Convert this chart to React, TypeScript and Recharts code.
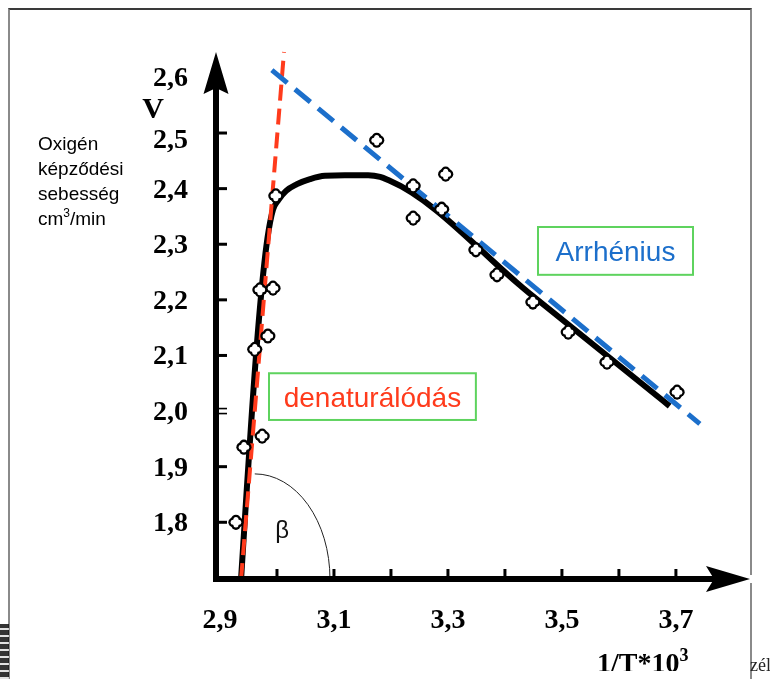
import React from 'react';
import { ComposedChart, XAxis, YAxis, Line, Scatter, ReferenceArea, ReferenceDot } from 'recharts';

// ---- axes ----
const X_DOMAIN: [number, number] = [2.893, 3.83];
const Y_DOMAIN: [number, number] = [1.698, 2.6457];
const X_TICKS = [2.9, 3.0, 3.1, 3.2, 3.3, 3.4, 3.5, 3.6, 3.7];
const X_LABELED = [2.9, 3.1, 3.3, 3.5, 3.7];
const Y_TICKS = [1.8, 1.9, 2.0, 2.1, 2.2, 2.3, 2.4, 2.5, 2.6];
const Y_MARKED = [1.8, 1.9, 2.0, 2.1, 2.2, 2.3, 2.4, 2.5];

// ---- measured points ----
const measuredX = [2.928, 2.942, 2.974, 2.961, 2.984, 2.970, 2.993, 2.998, 3.175, 3.239, 3.239, 3.296, 3.289, 3.349, 3.386, 3.449, 3.511, 3.579, 3.702];
const measuredY = [1.800, 1.935, 1.955, 2.111, 2.135, 2.218, 2.221, 2.387, 2.487, 2.405, 2.347, 2.426, 2.363, 2.290, 2.245, 2.196, 2.142, 2.088, 2.034];

// ---- fitted black curve ----
const curveX = [2.937, 2.988, 2.993, 3.002, 3.016, 3.035, 3.058, 3.084, 3.119, 3.160, 3.181, 3.198, 3.444, 3.689];
const curveY = [1.698, 2.340, 2.362, 2.379, 2.396, 2.408, 2.417, 2.423, 2.424, 2.424, 2.421, 2.414, 2.211, 2.009];

// ---- dashed guide lines ----
const denatX = [2.937, 3.0123];
const denatY = [1.698, 2.6457];
const arrhX = [2.991, 3.742];
const arrhY = [2.613, 1.977];

// ---- annotations ----
const ARRH_BOX = { x1: 3.458, x2: 3.730, y1: 2.245, y2: 2.331, text: 'Arrhénius' };
const DENAT_BOX = { x1: 2.986, x2: 3.349, y1: 1.984, y2: 2.068, text: 'denaturálódás' };
const ARC = { x1: 2.961, x2: 3.093, y1: 1.698, y2: 1.887 };
const BETA = { x: 3.009, y: 1.786, text: 'β' };

const toPts = (xs: number[], ys: number[]) => xs.map((x, i) => ({ x, y: ys[i] }));
const measured = toPts(measuredX, measuredY);
const curve = toPts(curveX, curveY);
const denat = toPts(denatX, denatY);
const arrh = toPts(arrhX, arrhY);
const xArrow = [{ x: X_DOMAIN[1], y: Y_DOMAIN[0] }];
const yArrow = [{ x: X_DOMAIN[0], y: Y_DOMAIN[1] }];
const corner = [{ x: X_DOMAIN[0], y: Y_DOMAIN[0] }];

const SERIF = '"Liberation Serif", "Times New Roman", serif';
const SANS = '"Liberation Sans", Arial, sans-serif';
const RED = '#FF3B1C';
const BLUE = '#1C6FCB';
const GREEN = '#5ED35E';

const has = (arr: number[], v: number) => arr.some((a) => Math.abs(a - v) < 1e-6);
const fmt = (v: number) => v.toFixed(1).replace('.', ',');

const XTick = (props: any) => {
  const { x, y, payload } = props;
  const v = payload.value as number;
  return (
    <g>
      {v > 2.95 && <line x1={x} y1={y} x2={x} y2={y - 10} stroke="#000" strokeWidth={3} />}
      {has(X_LABELED, v) && (
        <text x={x} y={y + 49} textAnchor="middle" fontFamily={SERIF} fontWeight="bold" fontSize={28} fill="#000">
          {fmt(v)}
        </text>
      )}
    </g>
  );
};

const YTick = (props: any) => {
  const { x, y, payload } = props;
  const v = payload.value as number;
  const marked = has(Y_MARKED, v);
  const isTwo = Math.abs(v - 2.0) < 1e-6;
  const nudge = Math.abs(v - 2.5) < 1e-6 ? 6 : 0;
  return (
    <g>
      {marked && !isTwo && <line x1={x} y1={y} x2={x + 11} y2={y} stroke="#000" strokeWidth={3} />}
      {marked && isTwo && (
        <g>
          <line x1={x} y1={y - 2.5} x2={x + 11} y2={y - 2.5} stroke="#000" strokeWidth={1.6} />
          <line x1={x} y1={y + 2.5} x2={x + 11} y2={y + 2.5} stroke="#000" strokeWidth={1.6} />
        </g>
      )}
      <text x={x - 28} y={y + 9 + nudge} textAnchor="end" fontFamily={SERIF} fontWeight="bold" fontSize={28} fill="#000">
        {fmt(v)}
      </text>
    </g>
  );
};

const Clover = (props: any) => {
  const { cx, cy } = props;
  const o = 2.8;
  const lobes = [
    [0, -o],
    [o, 0],
    [0, o],
    [-o, 0],
  ];
  return (
    <g>
      {lobes.map(([dx, dy], i) => (
        <circle key={'b' + i} cx={cx + dx} cy={cy + dy} r={4.8} fill="#000" />
      ))}
      {lobes.map(([dx, dy], i) => (
        <circle key={'w' + i} cx={cx + dx} cy={cy + dy} r={2.5} fill="#fff" />
      ))}
      <circle cx={cx} cy={cy} r={3.4} fill="#fff" />
    </g>
  );
};

const XArrowHead = (props: any) => {
  const { cx, cy } = props;
  return (
    <g>
      <rect x={cx - 36} y={cy - 4} width={40} height={8} fill="#fff" />
      <path d={`M${cx},${cy} L${cx - 44},${cy - 13} L${cx - 36},${cy} L${cx - 44},${cy + 13} Z`} fill="#000" />
    </g>
  );
};

const YArrowHead = (props: any) => {
  const { cx, cy } = props;
  return (
    <g>
      <rect x={cx - 4} y={cy - 4} width={8} height={40} fill="#fff" />
      <path d={`M${cx},${cy} L${cx + 12.5},${cy + 42} L${cx},${cy + 36} L${cx - 12.5},${cy + 42} Z`} fill="#000" />
    </g>
  );
};

const CornerSq = (props: any) => {
  const { cx, cy } = props;
  return <rect x={cx - 3} y={cy - 3} width={6} height={6} fill="#000" />;
};

const makeBox = (text: string, color: string) => (p: any) => (
  <g>
    <rect x={p.x} y={p.y} width={p.width} height={p.height} fill="#fff" stroke={GREEN} strokeWidth={2} />
    <text
      x={p.x + p.width / 2}
      y={p.y + p.height / 2 + 10}
      textAnchor="middle"
      fontFamily={SANS}
      fontSize={28}
      fill={color}
    >
      {text}
    </text>
  </g>
);

const ArcShape = (p: any) => (
  <path
    d={`M${p.x},${p.y} A${p.width},${p.height} 0 0 1 ${p.x + p.width},${p.y + p.height}`}
    fill="none"
    stroke="#222"
    strokeWidth={1}
  />
);

const BetaShape = (p: any) => (
  <text x={p.cx} y={p.cy + 8} textAnchor="middle" fontFamily={SANS} fontSize={24} fill="#111">
    {BETA.text}
  </text>
);

export default function App() {
  return (
    <div style={{ position: 'relative', width: 754, height: 663 }}>
      <div
        style={{
          position: 'fixed',
          left: 8,
          top: 8,
          width: 744,
          height: 690,
          boxSizing: 'border-box',
          borderTop: '2px solid #3a3a3a',
          borderLeft: '2px solid #8a8a8a',
          borderRight: '2px solid #8a8a8a',
        }}
      />
      <div
        style={{
          position: 'fixed',
          left: 0,
          top: 624,
          width: 9,
          height: 60,
          background:
            'repeating-linear-gradient(0deg, #111 0px, #111 5px, #ddd 5px, #ddd 7px), #111',
          opacity: 0.85,
        }}
      />
      <div
        style={{
          position: 'fixed',
          left: 750,
          top: 655,
          fontFamily: SERIF,
          fontSize: 18,
          lineHeight: '20px',
          color: '#222',
          whiteSpace: 'nowrap',
        }}
      >
        zél
      </div>
      <div style={{ position: 'absolute', left: 0, top: 0 }}>
        <ComposedChart width={754} height={663} margin={{ top: 44, left: 148, right: 12, bottom: 62 }}>
          <XAxis
            type="number"
            dataKey="x"
            domain={X_DOMAIN}
            ticks={X_TICKS}
            interval={0}
            height={30}
            tickSize={0}
            tickMargin={0}
            tickLine={false}
            axisLine={{ stroke: '#000', strokeWidth: 6 }}
            tick={(p: any) => <XTick {...p} />}
          />
          <YAxis
            type="number"
            dataKey="y"
            domain={Y_DOMAIN}
            ticks={Y_TICKS}
            interval={0}
            width={60}
            tickSize={0}
            tickMargin={0}
            tickLine={false}
            axisLine={{ stroke: '#000', strokeWidth: 6 }}
            tick={(p: any) => <YTick {...p} />}
          />
          <ReferenceArea x1={ARC.x1} x2={ARC.x2} y1={ARC.y1} y2={ARC.y2} shape={ArcShape} />
          <ReferenceArea
            x1={ARRH_BOX.x1}
            x2={ARRH_BOX.x2}
            y1={ARRH_BOX.y1}
            y2={ARRH_BOX.y2}
            shape={makeBox(ARRH_BOX.text, BLUE)}
          />
          <ReferenceArea
            x1={DENAT_BOX.x1}
            x2={DENAT_BOX.x2}
            y1={DENAT_BOX.y1}
            y2={DENAT_BOX.y2}
            shape={makeBox(DENAT_BOX.text, RED)}
          />
          <ReferenceDot x={BETA.x} y={BETA.y} r={0} shape={BetaShape} />
          <Scatter data={measured} dataKey="y" shape={Clover} isAnimationActive={false} />
          <Line data={curve} dataKey="y" type="monotone" stroke="#000" strokeWidth={6} dot={false} isAnimationActive={false} />
          <Line
            data={denat}
            dataKey="y"
            type="linear"
            stroke={RED}
            strokeWidth={4}
            strokeDasharray="16 8"
            dot={false}
            isAnimationActive={false}
          />
          <Line
            data={arrh}
            dataKey="y"
            type="linear"
            stroke={BLUE}
            strokeWidth={5}
            strokeDasharray="20 10"
            dot={false}
            isAnimationActive={false}
          />
          <Scatter data={xArrow} dataKey="y" shape={XArrowHead} isAnimationActive={false} />
          <Scatter data={yArrow} dataKey="y" shape={YArrowHead} isAnimationActive={false} />
          <Scatter data={corner} dataKey="y" shape={CornerSq} isAnimationActive={false} />
        </ComposedChart>
      </div>
      <svg
        width={754}
        height={671}
        style={{ position: 'absolute', left: 0, top: 0, pointerEvents: 'none', overflow: 'visible' }}
      >
        <text x={145} y={110} textAnchor="middle" fontFamily={SERIF} fontWeight="bold" fontSize={30} fill="#000">
          V
        </text>
        <g fontFamily={SANS} fontSize={19} fill="#000">
          <text x={30} y={142}>Oxigén</text>
          <text x={30} y={167}>képződési</text>
          <text x={30} y={192}>sebesség</text>
          <text x={30} y={217}>
            cm<tspan dy={-8} fontSize={12}>3</tspan>
            <tspan dy={8}>/min</tspan>
          </text>
        </g>
        <text x={589} y={664} fontFamily={SERIF} fontWeight="bold" fontSize={28} fill="#000">
          1/T*10<tspan dy={-11} fontSize={18}>3</tspan>
        </text>
      </svg>
    </div>
  );
}
